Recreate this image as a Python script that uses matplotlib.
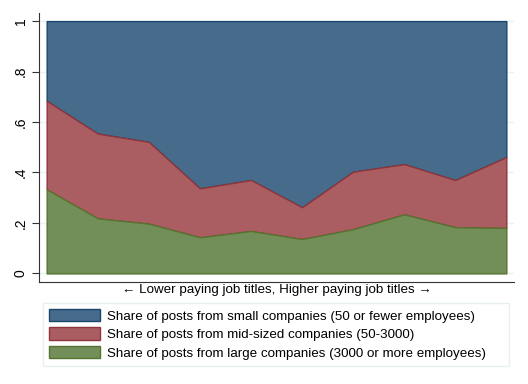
import numpy as np
import matplotlib.pyplot as plt
from matplotlib.patches import Patch

plt.rcParams['font.family'] = ['Liberation Sans', 'DejaVu Sans']

# job title groups, ordered lower paying -> higher paying
groups = np.arange(10)
large = [0.333, 0.218, 0.197, 0.143, 0.168, 0.136, 0.175, 0.234, 0.183, 0.180]
mid_top = [0.684, 0.554, 0.521, 0.337, 0.370, 0.262, 0.403, 0.433, 0.370, 0.461]
small_top = [1.0] * 10

labels = ['Share of posts from small companies (50 or fewer employees)',
          'Share of posts from mid-sized companies (50-3000)',
          'Share of posts from large companies (3000 or more employees)']
yticks = [0, 0.2, 0.4, 0.6, 0.8, 1]
yticklabels = ['0', '.2', '.4', '.6', '.8', '1']

fills = ['#466b8b', '#ab5e61', '#738f59']
edges = ['#1a476f', '#90353b', '#55752f']

fig = plt.figure(figsize=(5.28, 3.84), dpi=100)
ax = fig.add_axes([39/528, 1 - 281.7/384, (514-39)/528, (281.7-13)/384])

ax.fill_between(groups, mid_top, small_top, facecolor=fills[0], edgecolor=edges[0], linewidth=1, zorder=2)
ax.fill_between(groups, large, mid_top, facecolor=fills[1], edgecolor=edges[1], linewidth=1, zorder=3)
ax.fill_between(groups, 0, large, facecolor=fills[2], edgecolor=edges[2], linewidth=1, zorder=4)

ax.set_xlim(-0.15, 9.15)
ax.set_ylim(-0.033, 1.032)
ax.set_yticks(yticks)
ax.set_yticklabels(yticklabels, rotation=90, va='center', fontsize=10)
ax.set_xticks([])
ax.grid(axis='y', color='#eaf2f3', linewidth=1, zorder=0)
ax.set_axisbelow(True)
for s in ['top', 'right']:
    ax.spines[s].set_visible(False)
ax.spines['left'].set_color('#333333')
ax.spines['bottom'].set_color('#333333')
ax.tick_params(axis='y', length=5, color='#333333', pad=3)
ax.set_xlabel('\u2190 Lower paying job titles, Higher paying job titles \u2192', fontsize=9.6, labelpad=2)

handles = [Patch(facecolor=f, edgecolor=e, linewidth=1) for f, e in zip(fills, edges)]
leg = fig.legend(handles, labels, loc='upper left',
                 bbox_to_anchor=(43/528, 1 - 303/384, (509-43)/528, 0), mode='expand',
                 fontsize=9.6, frameon=True, fancybox=False, handlelength=3.8, handleheight=1.05,
                 handletextpad=0.55, labelspacing=0.35, borderpad=0.45, borderaxespad=0)
leg.get_frame().set_edgecolor('#e3ecee')
leg.get_frame().set_linewidth(1)

fig.savefig('out.png', dpi=100)
